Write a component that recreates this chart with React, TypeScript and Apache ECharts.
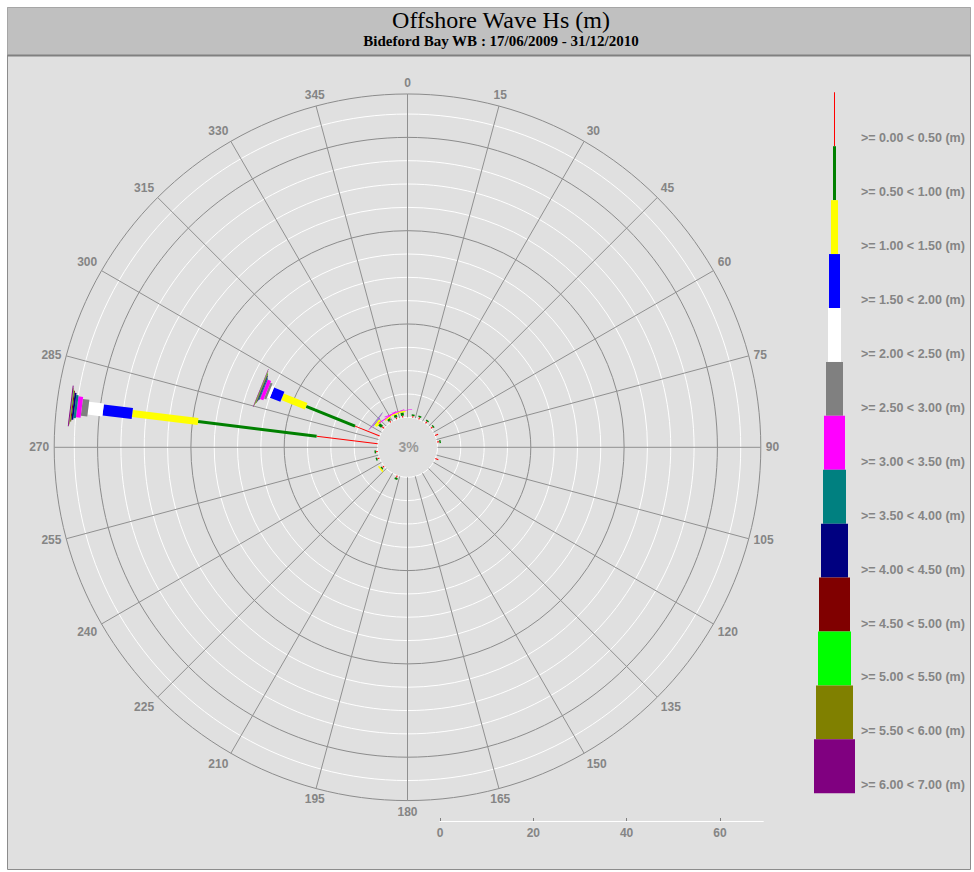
import React, { useEffect, useRef } from 'react';
import * as echarts from 'echarts';

// ---------- text ----------
const chartTitle = 'Offshore Wave Hs (m)';
const chartSubtitle = 'Bideford Bay WB : 17/06/2009 - 31/12/2010';
const calmPercent = 3;

// ---------- Hs classes (m) ----------
const classLower = [0, 0.5, 1.0, 1.5, 2.0, 2.5, 3.0, 3.5, 4.0, 4.5, 5.0, 5.5, 6.0];
const classUpper = [0.5, 1.0, 1.5, 2.0, 2.5, 3.0, 3.5, 4.0, 4.5, 5.0, 5.5, 6.0, 7.0];

// ---------- directions (deg) ----------
const directions = [277, 292, 309, 326, 339, 351, 10, 22, 37, 51, 67, 80, 112, 200, 231, 249, 262];

// ---------- frequency (%) per class, one value per direction ----------
const hs000_050 = [13.2, 5.7, 0.6, 0.4, 0.4, 0.4, 0.4, 0.5, 0.5, 0.5, 0.7, 0.5, 0.7, 0.5, 0.5, 0.5, 0.4];
const hs050_100 = [25.6, 11.3, 0.8, 0.5, 0.6, 0.7, 0.3, 0.3, 0.3, 0.3, 0, 0.3, 0, 0.4, 0.3, 0.3, 0.3];
const hs100_150 = [14.2, 5.5, 0.7, 0.3, 0.3, 0.3, 0, 0, 0, 0, 0, 0, 0, 0, 0.3, 0, 0];
const hs150_200 = [6.3, 2.4, 0.1, 0, 0, 0, 0, 0, 0, 0, 0, 0, 0, 0, 0, 0, 0];
const hs200_250 = [3.2, 0.6, 0.05, 0, 0, 0, 0, 0, 0, 0, 0, 0, 0, 0, 0, 0, 0];
const hs250_300 = [1.4, 0.5, 0.05, 0, 0, 0, 0, 0, 0, 0, 0, 0, 0, 0, 0, 0, 0];
const hs300_350 = [1.0, 0.8, 0.1, 0.2, 0.15, 0.1, 0, 0, 0, 0, 0, 0, 0, 0, 0, 0, 0];
const hs350_400 = [0.5, 0.2, 0.05, 0, 0, 0, 0, 0, 0, 0, 0, 0, 0, 0, 0, 0, 0];
const hs400_450 = [0.4, 0.15, 0, 0, 0, 0, 0, 0, 0, 0, 0, 0, 0, 0, 0, 0, 0];
const hs450_500 = [0.2, 0.1, 0, 0, 0, 0, 0, 0, 0, 0, 0, 0, 0, 0, 0, 0, 0];
const hs500_550 = [0.1, 0.1, 0, 0, 0, 0, 0, 0, 0, 0, 0, 0, 0, 0, 0, 0, 0];
const hs550_600 = [0.1, 0.1, 0, 0, 0, 0, 0, 0, 0, 0, 0, 0, 0, 0, 0, 0, 0];
const hs600_700 = [0.2, 0.1, 0, 0, 0, 0, 0, 0, 0, 0, 0, 0, 0, 0, 0, 0, 0];

const classValues = [
  hs000_050, hs050_100, hs100_150, hs150_200, hs200_250, hs250_300, hs300_350,
  hs350_400, hs400_450, hs450_500, hs500_550, hs550_600, hs600_700,
];

// ---------- scale ----------
const radiusMax = 69.3;
const ringStep = 5;
const majorRingStep = 20;
const scaleTicks = [0, 20, 40, 60];
const angleTicks = 15;

// ---------- styles ----------
const classColors = [
  '#ff0000', '#008000', '#ffff00', '#0000ff', '#ffffff', '#808080', '#ff00ff',
  '#008080', '#000080', '#800000', '#00ff00', '#808000', '#800080',
];
const classWidths = [1, 3, 7, 11, 13, 17, 21, 23, 27, 31, 33, 37, 41];
const LABEL_GRAY = '#858585';
const MAJOR = '#8c8c8c';
const MINOR = '#ffffff';
const CX = 407.5;
const CY = 447.3;
const R0 = 30;
const R1 = 353.3;
const SANS = '"Liberation Sans", Arial, sans-serif';
const SERIF = '"Liberation Serif", "Times New Roman", serif';

function buildSegments() {
  const out: number[][] = [];
  directions.forEach((dir, d) => {
    let cum = 0;
    classValues.forEach((arr, c) => {
      const v = arr[d];
      if (v > 0) {
        out.push([cum + v, dir, cum, c]);
        cum += v;
      }
    });
  });
  return out;
}

function ringColors() {
  const ticks: number[] = [];
  for (let v = 0; v < radiusMax; v += ringStep) ticks.push(v);
  ticks.push(radiusMax);
  return ticks.map((v) => (v === radiusMax || (v > 0 && v % majorRingStep === 0) ? MAJOR : MINOR));
}

export default function App() {
  const ref = useRef<HTMLDivElement>(null);
  useEffect(() => {
    if (!ref.current) return;
    const chart = echarts.init(ref.current, undefined, { renderer: 'svg' });

    const legendTop = 92.3;
    const segH = 53.92;
    const legendCX = 834.5;
    const legendEls: any[] = [];
    classColors.forEach((col, i) => {
      const w = classWidths[i];
      legendEls.push({
        type: 'rect',
        z: 5,
        shape: { x: legendCX - w / 2, y: legendTop + i * segH, width: w, height: segH },
        style: { fill: col },
      });
      legendEls.push({
        type: 'text',
        z: 5,
        x: 861,
        y: legendTop + (i + 1) * segH - 8,
        style: {
          text: `>= ${classLower[i].toFixed(2)} < ${classUpper[i].toFixed(2)} (m)`,
          fill: LABEL_GRAY,
          font: `bold 12.5px ${SANS}`,
          textAlign: 'left',
          textVerticalAlign: 'middle',
        },
      });
    });

    const option: any = {
      animation: false,
      backgroundColor: '#ffffff',
      title: {
        text: chartTitle,
        subtext: chartSubtitle,
        left: 496,
        top: 3,
        textAlign: 'center',
        itemGap: 1,
        textStyle: { fontFamily: SERIF, fontSize: 24, fontWeight: 'normal', color: '#000' },
        subtextStyle: { fontFamily: SERIF, fontSize: 15, fontWeight: 'bold', color: '#000' },
      },
      graphic: [
        {
          type: 'rect',
          z: -10,
          silent: true,
          shape: { x: 7.5, y: 7.5, width: 963, height: 862 },
          style: { fill: '#e0e0e0', stroke: '#8c8c8c', lineWidth: 1 },
        },
        {
          type: 'rect',
          z: -9,
          silent: true,
          shape: { x: 7.5, y: 7.5, width: 963, height: 47.5 },
          style: { fill: '#c0c0c0' },
        },
        {
          type: 'line',
          z: -8,
          silent: true,
          shape: { x1: 7.5, y1: 55.5, x2: 970.5, y2: 55.5 },
          style: { stroke: '#808080', lineWidth: 2 },
        },
        {
          type: 'text',
          z: 5,
          x: CX + 1,
          y: CY,
          style: {
            text: `${calmPercent}%`,
            fill: '#9a9a9a',
            font: `bold 14px ${SANS}`,
            textAlign: 'center',
            textVerticalAlign: 'middle',
          },
        },
        ...legendEls,
      ],
      polar: { center: [CX, CY], radius: [R0, R1] },
      angleAxis: {
        type: 'value',
        min: 0,
        max: 360,
        interval: angleTicks,
        startAngle: 90,
        clockwise: true,
        axisLine: { show: false },
        axisTick: { show: false },
        axisLabel: {
          color: LABEL_GRAY,
          fontFamily: SANS,
          fontWeight: 'bold',
          fontSize: 12,
          margin: 5,
        },
        splitLine: { show: true, lineStyle: { color: '#909090', width: 1 } },
      },
      radiusAxis: {
        type: 'value',
        min: 0,
        max: radiusMax,
        interval: ringStep,
        axisLine: { show: false },
        axisTick: { show: false },
        axisLabel: { show: false },
        splitLine: { show: true, lineStyle: { color: ringColors(), width: 1 } },
      },
      grid: { left: 440, top: 790, width: 323.3, height: 31, outerBoundsMode: 'none', containLabel: false },
      xAxis: {
        type: 'value',
        min: 0,
        max: radiusMax,
        interval: 20,
        axisLine: { show: true, lineStyle: { color: '#ffffff', width: 1 } },
        axisTick: { show: true, inside: true, length: 3, lineStyle: { color: '#808080' }, customValues: scaleTicks },
        axisLabel: {
          customValues: scaleTicks,
          color: LABEL_GRAY,
          fontFamily: SANS,
          fontWeight: 'bold',
          fontSize: 12,
          margin: 6,
        },
        splitLine: { show: false },
      },
      yAxis: { type: 'value', show: false, min: 0, max: 1 },
      series: [
        {
          type: 'custom',
          coordinateSystem: 'polar',
          silent: true,
          z: 3,
          data: buildSegments(),
          renderItem: (params: any, api: any) => {
            const end = api.value(0);
            const dir = api.value(1);
            const start = api.value(2);
            const cls = api.value(3);
            const p0 = api.coord([start, dir]);
            const p1 = api.coord([end, dir]);
            const a = api.coord([0, dir]);
            const b = api.coord([radiusMax, dir]);
            const len = Math.hypot(b[0] - a[0], b[1] - a[1]) || 1;
            const ux = (b[0] - a[0]) / len;
            const uy = (b[1] - a[1]) / len;
            const h = classWidths[cls] / 2;
            const nx = -uy * h;
            const ny = ux * h;
            return {
              type: 'polygon',
              shape: {
                points: [
                  [p0[0] + nx, p0[1] + ny],
                  [p1[0] + nx, p1[1] + ny],
                  [p1[0] - nx, p1[1] - ny],
                  [p0[0] - nx, p0[1] - ny],
                ],
              },
              style: { fill: classColors[cls] },
            };
          },
        },
      ],
    };
    chart.setOption(option);
    return () => chart.dispose();
  }, []);

  return (
    <div
      ref={ref}
      style={{ position: 'fixed', left: 0, top: 0, width: 974, height: 872 }}
    />
  );
}
